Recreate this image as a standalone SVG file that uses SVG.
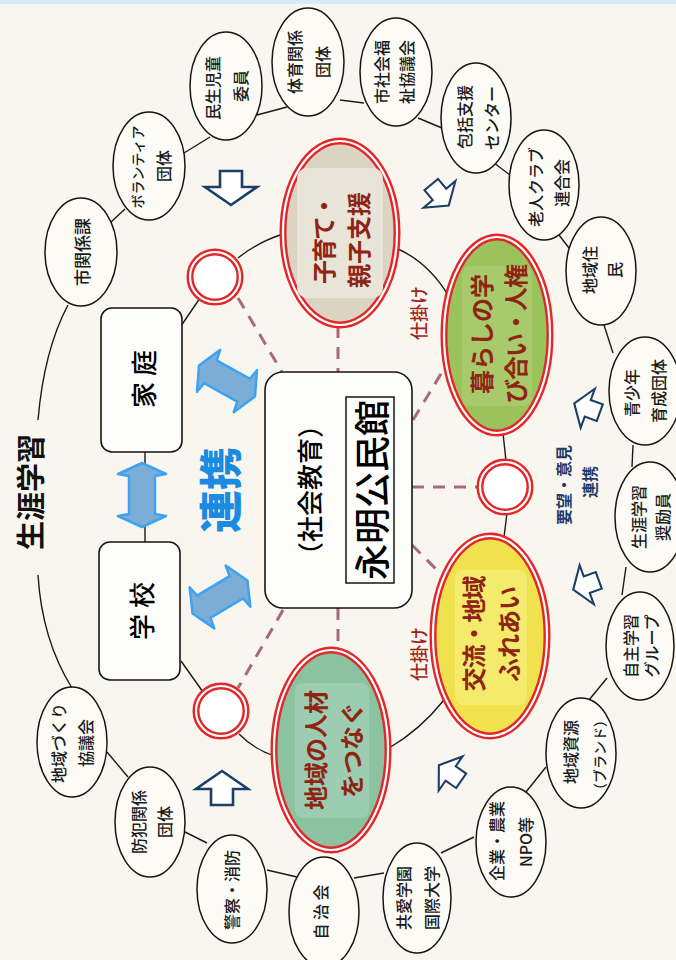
<svg xmlns="http://www.w3.org/2000/svg" width="676" height="960" viewBox="0 0 676 960">
<defs>
<style>
.t{font-family:"Noto Sans CJK JP","Noto Sans",sans-serif;text-anchor:middle;dominant-baseline:central}
.org{fill:#fcfbf6;stroke:#151515;stroke-width:1.5}
.o{font-size:16px;fill:#1a1a1a;font-weight:500}
.ln{fill:none;stroke:#1a1a1a;stroke-width:1.4}
.dash{fill:none;stroke:#a86a78;stroke-width:3;stroke-dasharray:12 9}
.red{stroke:#e3262a;stroke-width:7}
.gap{fill:none;stroke:#ffffff;stroke-width:2.2}
.it{font-size:24px;fill:#8e2414;font-weight:700}
.box{fill:#fdfdfb;stroke:#151515;stroke-width:1.6}
.barrow{fill:#7cadd6;stroke:#3da2f0;stroke-width:2.5;stroke-linejoin:round}
.harrow{fill:#ffffff;stroke:#1c3f68;stroke-width:2.6;stroke-linejoin:miter}
.lab{font-size:18px;fill:#a2231b;font-weight:500}
.navy{font-size:16px;fill:#1f3a6b;font-weight:700}
</style>
<path id="dblarrow" d="M -32 0 L -21 -24 L -19 -13 L 19 -13 L 21 -24 L 32 0 L 21 24 L 19 13 L -19 13 L -21 24 Z"/>
<path id="holarrow" d="M -17 -11 L -1 -11 L -1 -26 L 17 0 L -1 26 L -1 11 L -17 11 Z"/>
</defs>
<rect x="0" y="0" width="676" height="960" fill="#f8f6ee"/>
<rect x="0" y="0" width="676" height="4" fill="#d6ebf3"/>

<g id="connectors">
  <path class="ln" d="M 68 305 Q 44 350 38 420"/>
  <path class="ln" d="M 38 575 Q 42 640 72 688"/>
  <line class="ln" x1="111" y1="222" x2="125" y2="209"/>
  <line class="ln" x1="184" y1="153" x2="210" y2="137"/>
  <line class="ln" x1="257" y1="115" x2="287" y2="107"/>
  <line class="ln" x1="340" y1="100" x2="364" y2="103"/>
  <line class="ln" x1="418" y1="118" x2="442" y2="128"/>
  <line class="ln" x1="494" y1="163" x2="510" y2="175"/>
  <line class="ln" x1="559" y1="235" x2="569" y2="248"/>
  <line class="ln" x1="604" y1="325" x2="613" y2="353"/>
  <line class="ln" x1="633" y1="445" x2="632" y2="467"/>
  <line class="ln" x1="626" y1="567" x2="622" y2="595"/>
  <line class="ln" x1="607" y1="678" x2="589" y2="700"/>
  <line class="ln" x1="546" y1="767" x2="526" y2="792"/>
  <line class="ln" x1="474" y1="837" x2="441" y2="853"/>
  <line class="ln" x1="384" y1="873" x2="354" y2="878"/>
  <line class="ln" x1="297" y1="877" x2="267" y2="870"/>
  <line class="ln" x1="207" y1="843" x2="185" y2="832"/>
  <line class="ln" x1="128" y1="777" x2="107" y2="752"/>
  <line class="ln" x1="181" y1="326" x2="200" y2="298"/>
  <path class="ln" d="M 238 258 Q 258 242 283 234"/>
  <path class="ln" d="M 396 248 Q 428 262 448 295"/>
  <line class="ln" x1="503" y1="433" x2="506" y2="461"/>
  <line class="ln" x1="507" y1="513" x2="504" y2="537"/>
  <path class="ln" d="M 444 700 Q 420 730 389 748"/>
  <path class="ln" d="M 275 756 Q 255 750 239 734"/>
  <line class="ln" x1="203" y1="692" x2="181" y2="661"/>
  <line class="ln" x1="145" y1="452" x2="145" y2="542"/>
  <line class="dash" x1="238" y1="298" x2="282" y2="372"/>
  <line class="dash" x1="338" y1="326" x2="338" y2="372"/>
  <line class="dash" x1="413" y1="420" x2="447" y2="364"/>
  <line class="dash" x1="412" y1="487" x2="480" y2="487"/>
  <line class="dash" x1="412" y1="545" x2="440" y2="573"/>
  <line class="dash" x1="338" y1="608" x2="338" y2="650"/>
  <line class="dash" x1="283" y1="610" x2="238" y2="688"/>
  <use href="#dblarrow" class="barrow" transform="translate(142,495) rotate(90)"/>
  <use href="#dblarrow" class="barrow" transform="translate(227,381) rotate(29)"/>
  <use href="#dblarrow" class="barrow" transform="translate(220,597) rotate(-31)"/>
  <use href="#holarrow" class="harrow" transform="translate(231,188) rotate(90)"/>
  <use href="#holarrow" class="harrow" transform="translate(440,195) rotate(50) scale(0.8)"/>
  <use href="#holarrow" class="harrow" transform="translate(587,408) rotate(200) scale(0.8)"/>
  <use href="#holarrow" class="harrow" transform="translate(586,585) rotate(160) scale(0.8)"/>
  <use href="#holarrow" class="harrow" transform="translate(222,788) rotate(270)"/>
  <use href="#holarrow" class="harrow" transform="translate(450,773) rotate(215) scale(0.8)"/>
</g>

<text class="t" transform="translate(29,492) rotate(-90)" style="font-size:29px;font-weight:700;fill:#111">生涯学習</text>
<text class="t" transform="translate(218,490) rotate(-90)" style="font-size:43px;font-weight:900;fill:#1a8be0">連携</text>
<text class="t lab" transform="translate(418,313) rotate(-90)">仕掛け</text>
<text class="t lab" transform="translate(418,654) rotate(-90)">仕掛け</text>
<text class="t navy" transform="translate(563,485) rotate(-90)">要望・意見</text>
<text class="t navy" transform="translate(589,482) rotate(-90)">連携</text>

<g id="katei">
  <rect class="box" x="101" y="308" width="81" height="144" rx="11"/>
  <text class="t" transform="translate(142,379) rotate(-90)" style="font-size:26px;font-weight:500" xml:space="preserve">家 庭</text>
</g>
<g id="gakko">
  <rect class="box" x="99" y="542" width="81" height="138" rx="11"/>
  <text class="t" transform="translate(140,611) rotate(-90)" style="font-size:26px;font-weight:500" xml:space="preserve">学 校</text>
</g>
<g id="kominkan">
  <rect class="box" x="265" y="372" width="147" height="236" rx="18"/>
  <text class="t" transform="translate(308,490) rotate(-90)" style="font-size:26px;font-weight:500">（社会教育）</text>
  <rect x="346" y="397" width="48" height="186" fill="none" stroke="#151515" stroke-width="1.5"/>
  <text class="t" transform="translate(370,490) rotate(-90)" style="font-size:36px;font-weight:500">永明公民館</text>
</g>

<g id="ring-a"><circle class="red" cx="215" cy="277" r="25" fill="#ffffff"/><circle class="gap" cx="215" cy="277" r="25"/></g>
<g id="ring-b"><circle class="red" cx="505" cy="487" r="25" fill="#ffffff"/><circle class="gap" cx="505" cy="487" r="25"/></g>
<g id="ring-c"><circle class="red" cx="221" cy="711" r="25" fill="#ffffff"/><circle class="gap" cx="221" cy="711" r="25"/></g>

<g id="kosodate">
  <ellipse class="red" cx="340" cy="233" rx="57" ry="92" fill="#dcd4c3"/>
  <rect x="297" y="168" width="86" height="130" rx="10" fill="#e9e4d8"/>
  <ellipse class="gap" cx="340" cy="233" rx="57" ry="92"/>
  <text class="t it" transform="translate(322,240) rotate(-90)" letter-spacing="-2">子育て・</text>
  <text class="t it" transform="translate(357,240) rotate(-90)">親子支援</text>
</g>
<g id="kurashi">
  <ellipse class="red" cx="497" cy="335" rx="53" ry="98" fill="#9bc35b"/>
  <rect x="462" y="266" width="70" height="140" rx="8" fill="#a8ca6a"/>
  <ellipse class="gap" cx="497" cy="335" rx="53" ry="98"/>
  <text class="t it" transform="translate(480,334) rotate(-90)">暮らしの学</text>
  <text class="t it" transform="translate(514,334) rotate(-90)" letter-spacing="-1">び合い・人権</text>
</g>
<g id="koryu">
  <ellipse class="red" cx="490" cy="636" rx="57" ry="100" fill="#f0e24e"/>
  <rect x="455" y="570" width="72" height="135" rx="8" fill="#f4ea6c"/>
  <ellipse class="gap" cx="490" cy="636" rx="57" ry="100"/>
  <text class="t it" transform="translate(472,634) rotate(-90)" letter-spacing="-1">交流・地域</text>
  <text class="t it" transform="translate(507,634) rotate(-90)">ふれあい</text>
</g>
<g id="jinzai">
  <ellipse class="red" cx="331" cy="750" rx="57" ry="100" fill="#8bc3a1"/>
  <rect x="295" y="683" width="74" height="135" rx="8" fill="#9dcdb0"/>
  <ellipse class="gap" cx="331" cy="750" rx="57" ry="100"/>
  <text class="t it" transform="translate(314,750) rotate(-90)">地域の人材</text>
  <text class="t it" transform="translate(350,750) rotate(-90)">をつなぐ</text>
</g>

<g id="n1"><ellipse class="org" cx="81" cy="252" rx="36" ry="54"/><text class="t o" transform="translate(81,252) rotate(-90)" style="font-size:17px">市関係課</text></g>
<g id="n2"><ellipse class="org" cx="149" cy="166" rx="36" ry="54"/><text class="t o" transform="translate(137,167) rotate(-90)" style="font-size:14px">ボランティア</text><text class="t o" transform="translate(163,166) rotate(-90)">団体</text></g>
<g id="n3"><ellipse class="org" cx="226" cy="86" rx="36" ry="54"/><text class="t o" transform="translate(212,88) rotate(-90)">民生児童</text><text class="t o" transform="translate(240,86) rotate(-90)">委員</text></g>
<g id="n4"><ellipse class="org" cx="308" cy="62" rx="36" ry="54"/><text class="t o" transform="translate(294,62) rotate(-90)">体育関係</text><text class="t o" transform="translate(322,62) rotate(-90)">団体</text></g>
<g id="n5"><ellipse class="org" cx="396" cy="72" rx="36" ry="54"/><text class="t o" transform="translate(381,72) rotate(-90)">市社会福</text><text class="t o" transform="translate(406,72) rotate(-90)">祉協議会</text></g>
<g id="n6"><ellipse class="org" cx="476" cy="118" rx="35" ry="55"/><text class="t o" transform="translate(464,117) rotate(-90)">包括支援</text><text class="t o" transform="translate(491,118) rotate(-90)">センター</text></g>
<g id="n7"><ellipse class="org" cx="544" cy="185" rx="35" ry="55"/><text class="t o" transform="translate(535,187) rotate(-90)">老人クラブ</text><text class="t o" transform="translate(561,183) rotate(-90)">連合会</text></g>
<g id="n8"><ellipse class="org" cx="601" cy="271" rx="35" ry="54"/><text class="t o" transform="translate(589,270) rotate(-90)">地域住</text><text class="t o" transform="translate(614,270) rotate(-90)">民</text></g>
<g id="n9"><ellipse class="org" cx="645" cy="391" rx="36" ry="54"/><text class="t o" transform="translate(631,393) rotate(-90)">青少年</text><text class="t o" transform="translate(658,391) rotate(-90)">育成団体</text></g>
<g id="n10"><ellipse class="org" cx="650" cy="517" rx="35" ry="55"/><text class="t o" transform="translate(638,517) rotate(-90)">生涯学習</text><text class="t o" transform="translate(662,517) rotate(-90)">奨励員</text></g>
<g id="n11"><ellipse class="org" cx="640" cy="646" rx="34" ry="54"/><text class="t o" transform="translate(630,646) rotate(-90)">自主学習</text><text class="t o" transform="translate(651,646) rotate(-90)">グループ</text></g>
<g id="n12"><ellipse class="org" cx="581" cy="753" rx="35" ry="55"/><text class="t o" transform="translate(570,752) rotate(-90)">地域資源</text><text class="t o" transform="translate(599,755) rotate(-90)" style="font-size:14px">（ブランド）</text></g>
<g id="n13"><ellipse class="org" cx="511" cy="842" rx="35" ry="55"/><text class="t o" transform="translate(496,841) rotate(-90)">企業・農業</text><text class="t o" transform="translate(525,842) rotate(-90)">NPO等</text></g>
<g id="n14"><ellipse class="org" cx="417" cy="898" rx="34" ry="55"/><text class="t o" transform="translate(403,898) rotate(-90)">共愛学園</text><text class="t o" transform="translate(431,898) rotate(-90)">国際大学</text></g>
<g id="n15"><ellipse class="org" cx="324" cy="912" rx="35" ry="55"/><text class="t o" transform="translate(320,912) rotate(-90)" xml:space="preserve">自 治 会</text></g>
<g id="n16"><ellipse class="org" cx="232" cy="889" rx="35" ry="54"/><text class="t o" transform="translate(231,890) rotate(-90)">警察・消防</text></g>
<g id="n17"><ellipse class="org" cx="150" cy="822" rx="35" ry="55"/><text class="t o" transform="translate(138,822) rotate(-90)">防犯関係</text><text class="t o" transform="translate(164,822) rotate(-90)">団体</text></g>
<g id="n18"><ellipse class="org" cx="72" cy="742" rx="35" ry="55"/><text class="t o" transform="translate(58,743) rotate(-90)">地域づくり</text><text class="t o" transform="translate(85,743) rotate(-90)">協議会</text></g>
</svg>
